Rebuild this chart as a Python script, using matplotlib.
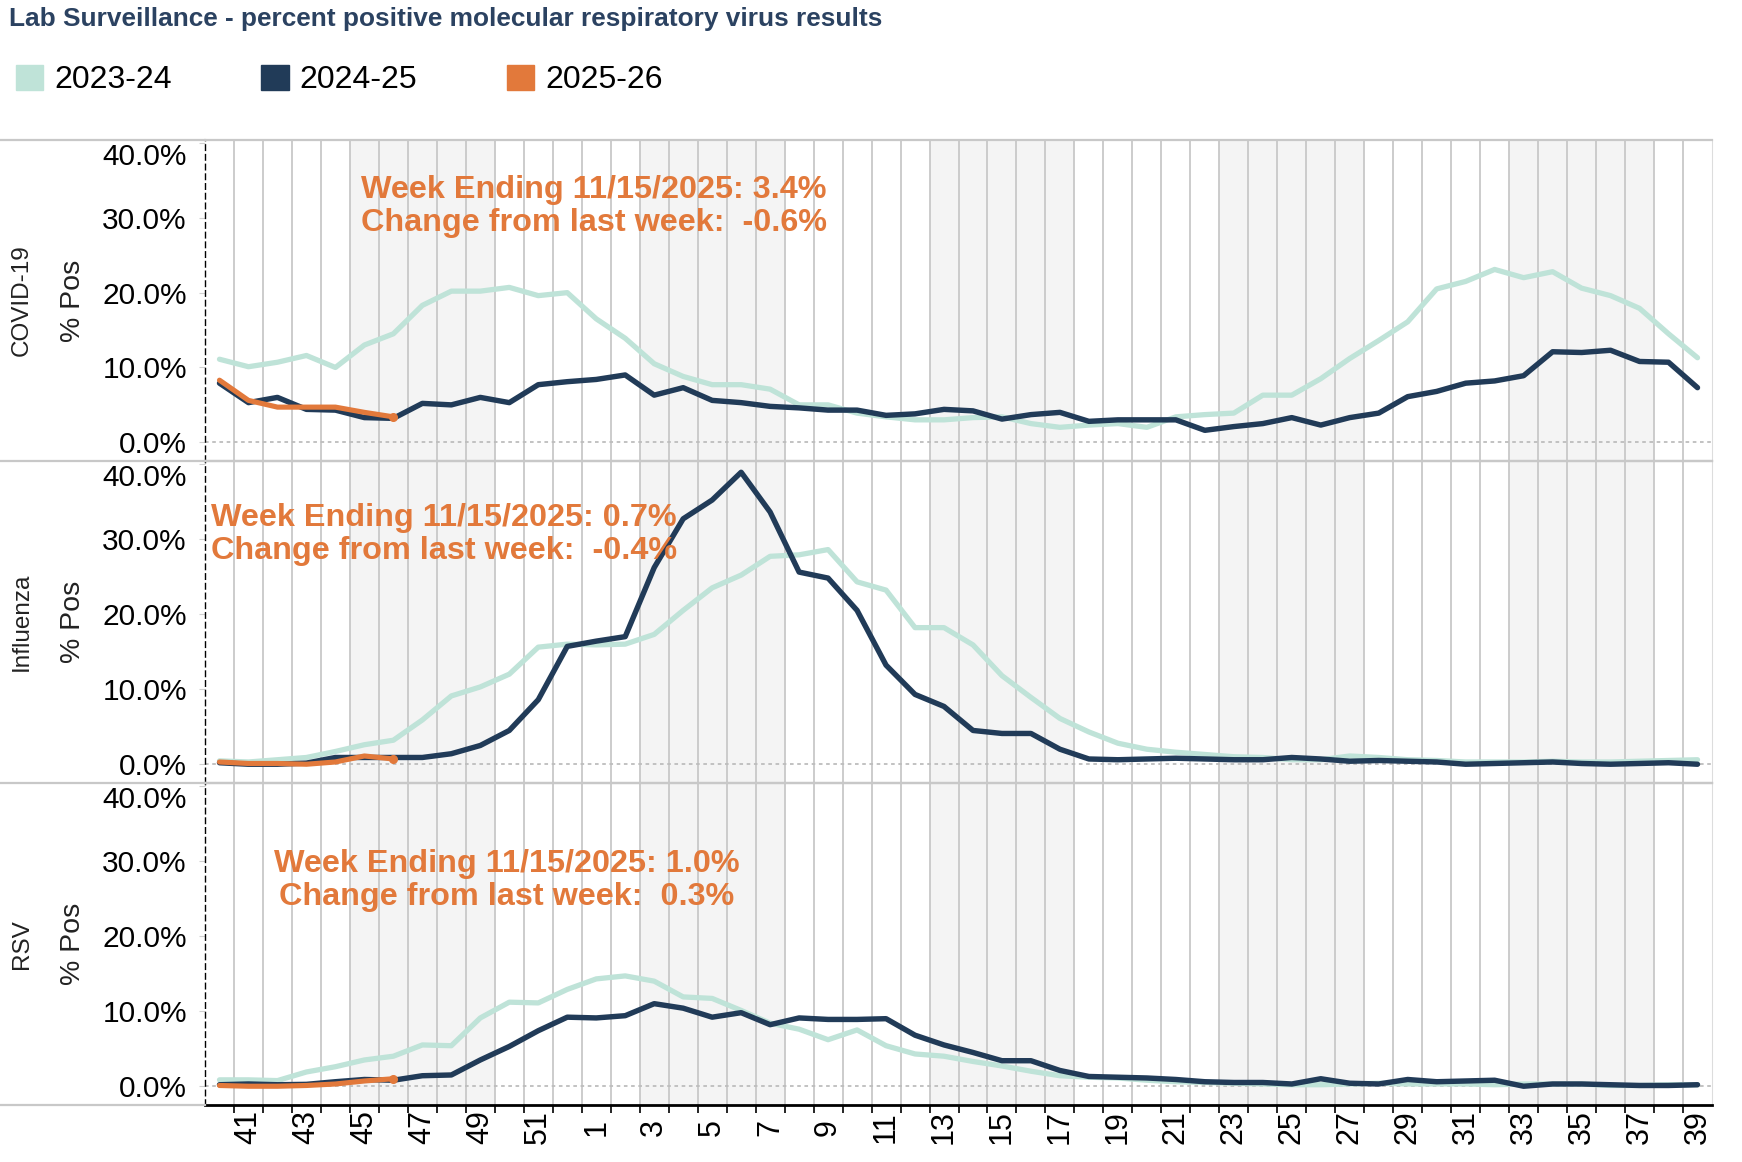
import matplotlib
matplotlib.use("Agg")
import matplotlib.pyplot as plt
from matplotlib.lines import Line2D
from matplotlib.patches import Patch
import numpy as np

plt.rcParams['font.family'] = ['Liberation Sans', 'DejaVu Sans']

# MMWR weeks, season runs week 40 -> week 39
weeks = list(range(40, 53)) + list(range(1, 40))

covid_2324 = [11.1, 10.1, 10.7, 11.6, 10.0, 13.0, 14.5, 18.3, 20.2, 20.2, 20.7, 19.6, 20.0,
              16.5, 13.9, 10.5, 8.8, 7.7, 7.7, 7.1, 5.0, 5.0, 3.9, 3.4, 3.0, 3.0, 3.3,
              3.4, 2.5, 2.0, 2.3, 2.5, 2.0, 3.4, 3.7, 3.9, 6.3, 6.3, 8.5, 11.2, 13.6,
              16.1, 20.5, 21.5, 23.1, 22.0, 22.8, 20.6, 19.6, 17.9, 14.5, 11.3]
covid_2425 = [7.9, 5.3, 6.0, 4.4, 4.3, 3.3, 3.2, 5.2, 5.0, 6.0, 5.3, 7.7, 8.1,
              8.4, 9.0, 6.3, 7.3, 5.6, 5.3, 4.8, 4.6, 4.3, 4.3, 3.6, 3.8, 4.4, 4.2,
              3.1, 3.7, 4.0, 2.8, 3.0, 3.0, 3.0, 1.6, 2.1, 2.5, 3.3, 2.3, 3.3, 3.9,
              6.1, 6.8, 7.9, 8.2, 8.9, 12.1, 12.0, 12.3, 10.8, 10.7, 7.3]
covid_2526 = [8.3, 5.6, 4.7, 4.7, 4.7, 4.0, 3.4]

flu_2324 = [0.45, 0.3, 0.6, 0.9, 1.7, 2.6, 3.2, 5.9, 9.1, 10.3, 12.0, 15.6, 16.0,
            15.9, 16.0, 17.3, 20.5, 23.5, 25.2, 27.7, 27.9, 28.6, 24.3, 23.2, 18.2, 18.2,
            15.9, 11.8, 8.9, 6.1, 4.3, 2.8, 2.0, 1.6, 1.3, 1.0, 0.9, 0.6, 0.6, 1.1,
            0.9, 0.6, 0.5, 0.3, 0.3, 0.3, 0.4, 0.3, 0.3, 0.4, 0.5, 0.6]
flu_2425 = [0.2, 0.0, 0.0, 0.15, 0.9, 0.9, 0.9, 0.9, 1.4, 2.5, 4.5, 8.6, 15.7,
            16.4, 17.0, 26.2, 32.7, 35.2, 38.9, 33.6, 25.6, 24.8, 20.5, 13.2, 9.3, 7.7,
            4.5, 4.1, 4.1, 2.0, 0.7, 0.6, 0.7, 0.8, 0.7, 0.6, 0.6, 0.9, 0.7, 0.4,
            0.5, 0.4, 0.3, 0.0, 0.1, 0.2, 0.3, 0.1, 0.0, 0.1, 0.2, 0.0]
flu_2526 = [0.3, 0.1, 0.1, 0.0, 0.3, 1.1, 0.7]

rsv_2324 = [0.85, 0.85, 0.75, 1.9, 2.6, 3.5, 4.0, 5.5, 5.4, 9.1, 11.2, 11.1, 12.9,
            14.3, 14.7, 14.0, 11.9, 11.7, 10.1, 8.4, 7.6, 6.2, 7.5, 5.4, 4.3, 4.0,
            3.3, 2.7, 2.0, 1.4, 1.2, 1.1, 0.8, 0.6, 0.5, 0.4, 0.3, 0.2, 0.2, 0.3,
            0.4, 0.3, 0.3, 0.3, 0.2, 0.3, 0.3, 0.3, 0.1, 0.1, 0.2, 0.2]
rsv_2425 = [0.2, 0.3, 0.2, 0.25, 0.6, 0.9, 0.8, 1.4, 1.5, 3.5, 5.3, 7.4, 9.2,
            9.1, 9.4, 11.0, 10.4, 9.2, 9.8, 8.2, 9.1, 8.9, 8.9, 9.0, 6.8, 5.5,
            4.5, 3.4, 3.4, 2.1, 1.3, 1.2, 1.1, 0.9, 0.6, 0.5, 0.5, 0.3, 1.0, 0.4,
            0.3, 0.9, 0.6, 0.7, 0.8, 0.0, 0.3, 0.3, 0.2, 0.1, 0.1, 0.2]
rsv_2526 = [0.1, 0.0, 0.0, 0.1, 0.3, 0.7, 1.0]

viruses = ['COVID-19', 'Influenza', 'RSV']
notes = ['Week Ending 11/15/2025: 3.4%\nChange from last week:  -0.6%',
         'Week Ending 11/15/2025: 0.7%\nChange from last week:  -0.4%',
         'Week Ending 11/15/2025: 1.0%\nChange from last week:  0.3%']
seasons = ['2023-24', '2024-25', '2025-26']

C_OLD = '#bfe3d8'
C_PREV = '#213b58'
C_CUR = '#e2793b'
GRID = '#c8c8c8'

W, H = 1742, 1162
fig = plt.figure(figsize=(W / 100, H / 100), dpi=100)

x = np.arange(len(weeks))
panel_px = [(140, 461), (461, 783), (783, 1105)]
series = [(covid_2324, covid_2425, covid_2526),
          (flu_2324, flu_2425, flu_2526),
          (rsv_2324, rsv_2425, rsv_2526)]
# note position: (x in weeks, y in %, ha)
note_pos = [(4.9, 31.5, 'left'), (-0.3, 30.6, 'left'), (9.9, 27.4, 'center')]

axes = []
for k in range(3):
    top, bot = panel_px[k]
    ax = fig.add_axes([205 / W, 1 - bot / H, (1712 - 205) / W, (bot - top) / H])
    axes.append(ax)
    old, prev, cur = series[k]

    # alternating 5-week bands
    for s in range(5, 52, 10):
        ax.axvspan(s - 0.5, s + 4.5, color='#f4f4f4', lw=0, zorder=0)
    ax.axhline(0, color='#bdbdbd', lw=1.3, ls=(0, (2, 2)), zorder=1)

    ax.plot(x, old, color=C_OLD, lw=3.8, zorder=3, solid_capstyle='round')
    ax.plot(x, prev, color=C_PREV, lw=3.9, zorder=4, solid_capstyle='round')
    ax.plot(x[:len(cur)], cur, color=C_CUR, lw=3.7, zorder=5, solid_capstyle='round')
    ax.plot(x[len(cur) - 1], cur[-1], 'o', color=C_CUR, ms=5.5, zorder=5)

    ax.set_xlim(-0.5, 51.5)
    ax.set_ylim(-2.5, 40.4)
    ax.set_yticks([0, 10, 20, 30, 40])
    ax.set_yticklabels(['%.1f%%' % v for v in [0, 10, 20, 30, 40]])
    ax.get_yticklabels()[-1].set_va('top')
    ax.tick_params(axis='y', labelsize=21.5, length=4, color='#d0d0d0', pad=9)

    ax.set_xticks(x[1::2])
    ax.set_xticks(x[:-1] + 0.5, minor=True)
    ax.grid(which='minor', axis='x', color=GRID, lw=1.3, zorder=2)
    ax.set_axisbelow(True)

    ax.spines['left'].set_linestyle((0, (4, 3)))
    ax.spines['left'].set_linewidth(1.0)
    ax.spines['left'].set_color('black')
    ax.spines['right'].set_color('#dddddd')
    ax.spines['top'].set_color(GRID)
    ax.spines['top'].set_linewidth(1.6)

    tx, ty, ha = note_pos[k]
    ax.text(tx, ty, notes[k], color=C_CUR, fontsize=23.3, fontweight='bold',
            ha=ha, va='center', multialignment=ha, linespacing=1.15, zorder=6)

    ymid = 1 - (top + bot) / 2 / H
    fig.text(22 / W, ymid, viruses[k], rotation=90, fontsize=17.5,
             ha='center', va='center', color='#222222')
    fig.text(73 / W, ymid, '% Pos', rotation=90, fontsize=20.5,
             ha='center', va='center', color='#222222')

    if k < 2:
        ax.spines['bottom'].set_visible(False)
        ax.tick_params(axis='x', which='both', length=0, labelbottom=False)
    else:
        ax.spines['bottom'].set_color('black')
        ax.spines['bottom'].set_linewidth(2.0)
        ax.set_xticklabels([str(w) for w in weeks[1::2]])
        ax.tick_params(axis='x', which='major', length=0, labelsize=22, pad=16)
        ax.tick_params(axis='x', which='minor', length=6, width=1.2, color='black')
        for lab in ax.get_xticklabels():
            lab.set_rotation(90)
            lab.set_va('center')
            lab.set_ha('center')

# separators across the label area
for yy in [140, 461, 783, 1105]:
    fig.add_artist(Line2D([0, 205 / W], [1 - yy / H, 1 - yy / H], color=GRID, lw=1.6))
for yy in [461, 783]:
    fig.add_artist(Line2D([205 / W, 1712 / W], [1 - yy / H, 1 - yy / H], color=GRID, lw=1.6))

fig.text(9 / W, 1 - 19 / H,
         'Lab Surveillance - percent positive molecular respiratory virus results',
         fontsize=18.9, fontweight='bold', color='#2b4261', ha='left', va='center')

handles = [Patch(color=c) for c in [C_OLD, C_PREV, C_CUR]]
fig.legend(handles, seasons, loc='center left', bbox_to_anchor=(16 / W, 1 - 80 / H),
           ncol=3, frameon=False, fontsize=23, handlelength=0.85, handleheight=0.85,
           handletextpad=0.35, columnspacing=2.8, borderpad=0, borderaxespad=0)

fig.savefig('out.png', dpi=100)
